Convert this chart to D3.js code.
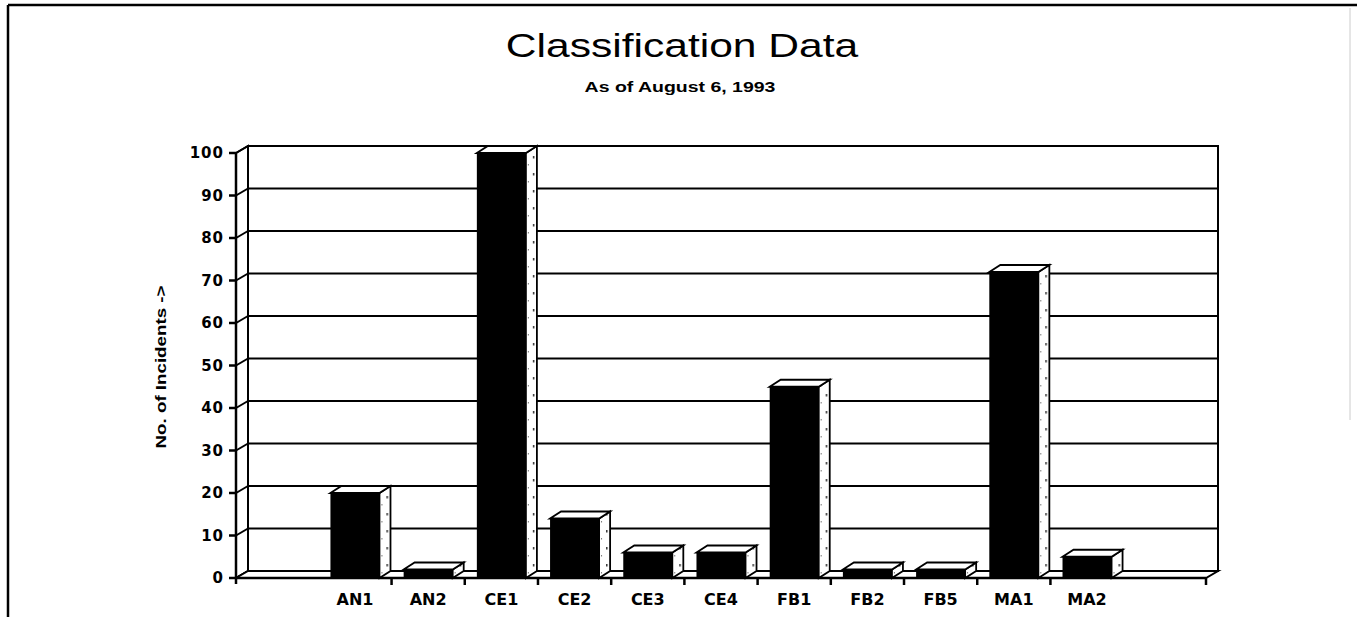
<!DOCTYPE html>
<html>
<head>
<meta charset="utf-8">
<script src="https://cdn.jsdelivr.net/npm/d3@7"></script>
<style>
body { margin: 0; background: #fff; }
svg { display: block; }
</style>
</head>
<body>
<script>
// data
var categories = ["AN1", "AN2", "CE1", "CE2", "CE3", "CE4", "FB1", "FB2", "FB5", "MA1", "MA2"];
var incidents = [20, 2, 100, 14, 6, 6, 45, 2, 2, 72, 5];
var yTicks = [0, 10, 20, 30, 40, 50, 60, 70, 80, 90, 100];
var titleText = "Classification Data";
var subtitleText = "As of August 6, 1993";
var yLabelText = "No. of Incidents ->";

var W = 1357, H = 617;
// 3d depth of the walls and of the bars
var dx = 12, dy = -7;
var bdx = 11, bdy = -7;

var data = categories.map(function(c, i) { return {cat: c, value: incidents[i]}; });

// setup x
var xScale = d3.scaleBand().domain(categories)
.range([236, 1206])
.paddingOuter(1.125)
.paddingInner(0);
var step = xScale.step();

// setup y
var yScale = d3.scaleLinear().domain([0, 100]).range([578, 153]);

var svg = d3.select("body").append("svg")
.attr("width", W)
.attr("height", H);

// speckled side faces
var pat = svg.append("defs").append("pattern")
.attr("id", "speck")
.attr("patternUnits", "userSpaceOnUse")
.attr("width", 9)
.attr("height", 17);
pat.append("rect").attr("width", 9).attr("height", 17).attr("fill", "#fff");
pat.append("rect").attr("x", 2).attr("y", 3).attr("width", 1.5).attr("height", 2.5).attr("fill", "#333");
pat.append("rect").attr("x", 6).attr("y", 11).attr("width", 1).attr("height", 1.5).attr("fill", "#777");

// page frame
svg.append("line").attr("x1", 8).attr("y1", 5).attr("x2", W).attr("y2", 5)
.attr("stroke", "#000").attr("stroke-width", 2.5);
svg.append("line").attr("x1", 8).attr("y1", 5).attr("x2", 8).attr("y2", H)
.attr("stroke", "#000").attr("stroke-width", 2.5);
svg.append("line").attr("x1", 1350).attr("y1", 8).attr("x2", 1350).attr("y2", 420)
.attr("stroke", "#ccc").attr("stroke-width", 1);

// titles (old helvetica is wide, so stretch horizontally)
svg.append("text")
.attr("transform", "translate(682,57) scale(1.29,1)")
.attr("text-anchor", "middle")
.attr("font-family", "Liberation Sans, Arial, sans-serif")
.attr("font-size", 33)
.text(titleText);

svg.append("text")
.attr("transform", "translate(680,92) scale(1.3,1)")
.attr("text-anchor", "middle")
.attr("font-family", "Liberation Sans, Arial, sans-serif")
.attr("font-weight", "bold")
.attr("font-size", 15)
.text(subtitleText);

var x0 = xScale.range()[0], x1 = xScale.range()[1];
var yb = yScale(0), yt = yScale(100);

var g = svg.append("g");

// back wall
g.append("rect")
.attr("x", x0 + dx).attr("y", yt + dy)
.attr("width", x1 - x0).attr("height", yb - yt)
.attr("fill", "#fff")
.attr("stroke", "#000").attr("stroke-width", 2);

// gridlines on back wall
g.selectAll(".grid")
.data(yTicks.filter(function(d) { return d > 0 && d < 100; }))
.enter().append("line")
.attr("class", "grid")
.attr("x1", x0 + dx).attr("x2", x1 + dx)
.attr("y1", function(d) { return yScale(d) + dy; })
.attr("y2", function(d) { return yScale(d) + dy; })
.attr("stroke", "#000").attr("stroke-width", 2);

// left side wall
g.append("path")
.attr("d", "M" + x0 + "," + yt + "L" + (x0 + dx) + "," + (yt + dy) +
  "L" + (x0 + dx) + "," + (yb + dy) + "L" + x0 + "," + yb + "Z")
.attr("fill", "#fff")
.attr("stroke", "#000").attr("stroke-width", 2);

g.selectAll(".diag")
.data(yTicks)
.enter().append("line")
.attr("class", "diag")
.attr("x1", x0).attr("x2", x0 + dx)
.attr("y1", function(d) { return yScale(d); })
.attr("y2", function(d) { return yScale(d) + dy; })
.attr("stroke", "#000").attr("stroke-width", 2);

// floor
g.append("path")
.attr("d", "M" + x0 + "," + yb + "L" + x1 + "," + yb +
  "L" + (x1 + dx) + "," + (yb + dy) + "L" + (x0 + dx) + "," + (yb + dy) + "Z")
.attr("fill", "#fff")
.attr("stroke", "#000").attr("stroke-width", 2);

// bars
var bw = step * 0.67;
var bars = g.selectAll(".bar")
.data(data)
.enter().append("g")
.attr("class", "bar")
.attr("transform", function(d) { return "translate(" + (xScale(d.cat) + step * 0.165) + ",0)"; });

bars.append("path")
.attr("d", function(d) {
  var t = yScale(d.value);
  return "M" + bw + "," + t + "L" + (bw + bdx) + "," + (t + bdy) +
    "L" + (bw + bdx) + "," + (yb + bdy) + "L" + bw + "," + yb + "Z";
})
.attr("fill", "url(#speck)")
.attr("stroke", "#000").attr("stroke-width", 1.8);

bars.append("path")
.attr("d", function(d) {
  var t = yScale(d.value);
  return "M0," + t + "L" + bdx + "," + (t + bdy) +
    "L" + (bw + bdx) + "," + (t + bdy) + "L" + bw + "," + t + "Z";
})
.attr("fill", "#fff")
.attr("stroke", "#000").attr("stroke-width", 1.8);

bars.append("rect")
.attr("x", 0)
.attr("y", function(d) { return yScale(d.value); })
.attr("width", bw)
.attr("height", function(d) { return yb - yScale(d.value); })
.attr("fill", "#000");

// front edges of the axes
g.append("line")
.attr("x1", x0).attr("x2", x0).attr("y1", yt).attr("y2", yb + 6)
.attr("stroke", "#000").attr("stroke-width", 2.5);
g.append("line")
.attr("x1", x0).attr("x2", x1).attr("y1", yb).attr("y2", yb)
.attr("stroke", "#000").attr("stroke-width", 2.5);

// y-axis ticks and labels
var yAxis = svg.append("g").attr("class", "y axis");
yAxis.selectAll("line")
.data(yTicks)
.enter().append("line")
.attr("x1", x0 - 7).attr("x2", x0)
.attr("y1", function(d) { return yScale(d); })
.attr("y2", function(d) { return yScale(d); })
.attr("stroke", "#000").attr("stroke-width", 2.5);
yAxis.selectAll("text")
.data(yTicks)
.enter().append("text")
.attr("x", x0 - 12)
.attr("y", function(d) { return yScale(d); })
.attr("dy", "0.36em")
.attr("text-anchor", "end")
.attr("font-family", "DejaVu Sans, sans-serif")
.attr("font-weight", "bold")
.attr("font-size", 15)
.attr("letter-spacing", 1)
.text(function(d) { return d; });

// x-axis ticks between categories
var xTicks = categories.slice(1).map(function(c) { return xScale(c); }).concat([x1]);
var xAxis = svg.append("g").attr("class", "x axis");
xAxis.selectAll("line")
.data(xTicks)
.enter().append("line")
.attr("x1", function(d) { return d; })
.attr("x2", function(d) { return d; })
.attr("y1", yb).attr("y2", yb + 7)
.attr("stroke", "#000").attr("stroke-width", 2.5);
xAxis.selectAll("text")
.data(categories)
.enter().append("text")
.attr("x", function(d) { return xScale(d) + step / 2; })
.attr("y", 605)
.attr("text-anchor", "middle")
.attr("font-family", "DejaVu Sans, sans-serif")
.attr("font-weight", "bold")
.attr("font-size", 16)
.text(function(d) { return d; });

// y label
svg.append("text")
.attr("transform", "translate(166,367) rotate(-90) scale(1.25,1)")
.attr("text-anchor", "middle")
.attr("font-family", "Liberation Sans, Arial, sans-serif")
.attr("font-weight", "bold")
.attr("font-size", 15)
.text(yLabelText);
</script>
</body>
</html>
